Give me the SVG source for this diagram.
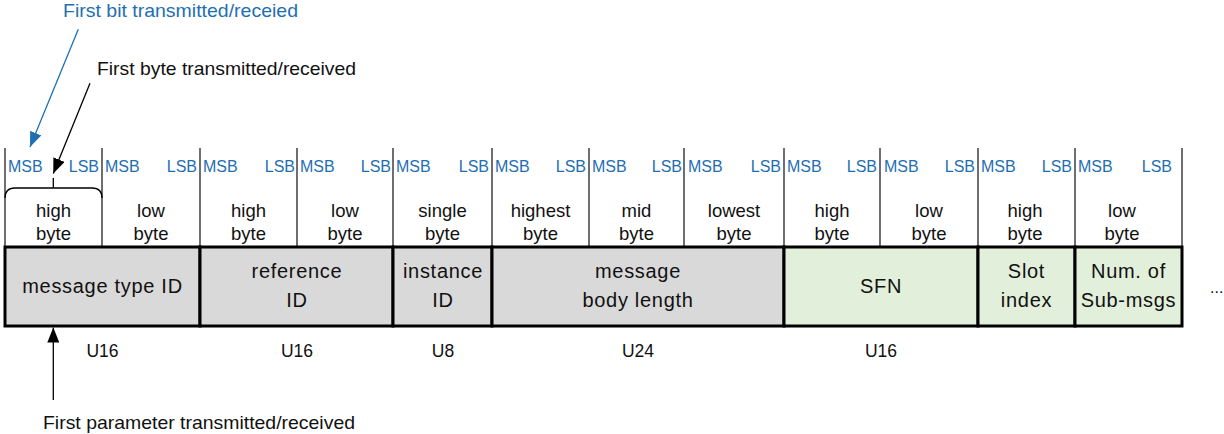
<svg xmlns="http://www.w3.org/2000/svg" width="1224" height="434" viewBox="0 0 1224 434">
<defs>
<marker id="ahb" markerUnits="userSpaceOnUse" markerWidth="15" markerHeight="12" refX="15" refY="6" orient="auto"><path d="M0,0 L15,6 L0,12 z" fill="#000"/></marker>
<marker id="ahBlue" markerUnits="userSpaceOnUse" markerWidth="15" markerHeight="12" refX="15" refY="6" orient="auto"><path d="M0,0 L15,6 L0,12 z" fill="#1F6FB2"/></marker>
</defs>
<style>
text{font-family:"Liberation Sans",Arial,sans-serif;fill:#111}
.msb{font-size:16px;fill:#1F6FB2}
.bl{font-size:18.5px;text-anchor:middle}
.bx{font-size:20px;text-anchor:middle;letter-spacing:0.7px}
.u{font-size:17.5px;text-anchor:middle}
.note{font-size:18.5px}
.div{stroke:#222;stroke-width:1.3;fill:none}
.gray{fill:#D9D9D9;stroke:#000;stroke-width:3}
.green{fill:#E2EFDA;stroke:#000;stroke-width:3}
.conn{stroke:#000;stroke-width:1.3;fill:none}
</style>

<g id="byte-grid">
<path class="div" d="M5,148V247 M102,148V247 M200,148V247 M297,148V247 M393,148V247 M492,148V247 M589,148V247 M684,148V247 M784,148V247 M880,148V247 M978,148V247 M1075,148V247 M1182,148V247"/>
<text class="msb" x="8" y="172">MSB</text><text class="msb" x="99" y="172" text-anchor="end">LSB</text>
<text class="msb" x="105" y="172">MSB</text><text class="msb" x="197" y="172" text-anchor="end">LSB</text>
<text class="msb" x="203" y="172">MSB</text><text class="msb" x="295" y="172" text-anchor="end">LSB</text>
<text class="msb" x="300" y="172">MSB</text><text class="msb" x="391" y="172" text-anchor="end">LSB</text>
<text class="msb" x="396" y="172">MSB</text><text class="msb" x="489" y="172" text-anchor="end">LSB</text>
<text class="msb" x="495" y="172">MSB</text><text class="msb" x="586" y="172" text-anchor="end">LSB</text>
<text class="msb" x="592" y="172">MSB</text><text class="msb" x="682" y="172" text-anchor="end">LSB</text>
<text class="msb" x="688" y="172">MSB</text><text class="msb" x="781" y="172" text-anchor="end">LSB</text>
<text class="msb" x="787" y="172">MSB</text><text class="msb" x="877" y="172" text-anchor="end">LSB</text>
<text class="msb" x="884" y="172">MSB</text><text class="msb" x="975" y="172" text-anchor="end">LSB</text>
<text class="msb" x="981" y="172">MSB</text><text class="msb" x="1072" y="172" text-anchor="end">LSB</text>
<text class="msb" x="1078" y="172">MSB</text><text class="msb" x="1172" y="172" text-anchor="end">LSB</text>

<text class="bl" x="53.5" y="217">high</text><text class="bl" x="53.5" y="240">byte</text>
<text class="bl" x="151" y="217">low</text><text class="bl" x="151" y="240">byte</text>
<text class="bl" x="248.5" y="217">high</text><text class="bl" x="248.5" y="240">byte</text>
<text class="bl" x="345" y="217">low</text><text class="bl" x="345" y="240">byte</text>
<text class="bl" x="442.5" y="217">single</text><text class="bl" x="442.5" y="240">byte</text>
<text class="bl" x="540.5" y="217">highest</text><text class="bl" x="540.5" y="240">byte</text>
<text class="bl" x="636.5" y="217">mid</text><text class="bl" x="636.5" y="240">byte</text>
<text class="bl" x="734" y="217">lowest</text><text class="bl" x="734" y="240">byte</text>
<text class="bl" x="832" y="217">high</text><text class="bl" x="832" y="240">byte</text>
<text class="bl" x="929" y="217">low</text><text class="bl" x="929" y="240">byte</text>
<text class="bl" x="1025" y="217">high</text><text class="bl" x="1025" y="240">byte</text>
<text class="bl" x="1122" y="217">low</text><text class="bl" x="1122" y="240">byte</text>
</g>

<g id="first-byte-bracket">
<path class="conn" d="M5,198 Q5,188 15,188 L92,188 Q102,188 102,198 M53.3,178 V188"/>
</g>

<g id="node-message-type-id">
<rect class="gray" x="5" y="247" width="195" height="79"/>
<text class="bx" x="102.5" y="293">message type ID</text>
</g>
<g id="node-reference-id">
<rect class="gray" x="200" y="247" width="193" height="79"/>
<text class="bx" x="297" y="278">reference</text><text class="bx" x="297" y="307">ID</text>
</g>
<g id="node-instance-id">
<rect class="gray" x="393" y="247" width="99" height="79"/>
<text class="bx" x="443" y="278">instance</text><text class="bx" x="443" y="307">ID</text>
</g>
<g id="node-message-body-length">
<rect class="gray" x="492" y="247" width="292" height="79"/>
<text class="bx" x="638" y="278">message</text><text class="bx" x="638" y="307">body length</text>
</g>
<g id="node-sfn">
<rect class="green" x="784" y="247" width="194" height="79"/>
<text class="bx" x="881" y="293">SFN</text>
</g>
<g id="node-slot-index">
<rect class="green" x="978" y="247" width="97" height="79"/>
<text class="bx" x="1026.5" y="278">Slot</text><text class="bx" x="1026.5" y="307">index</text>
</g>
<g id="node-num-sub-msgs">
<rect class="green" x="1075" y="247" width="107" height="79"/>
<text class="bx" x="1128.5" y="278">Num. of</text><text class="bx" x="1128.5" y="307">Sub-msgs</text>
</g>
<g id="ellipsis"><text x="1210" y="293" style="font-size:16px">...</text></g>

<g id="type-labels">
<text class="u" x="102.5" y="357">U16</text>
<text class="u" x="297" y="357">U16</text>
<text class="u" x="443" y="357">U8</text>
<text class="u" x="638" y="357">U24</text>
<text class="u" x="881" y="357">U16</text>
</g>

<g id="annotations">
<text class="note" x="63" y="17" style="fill:#1F6FB2" textLength="235" lengthAdjust="spacingAndGlyphs">First bit transmitted/receied</text>
<text class="note" x="97" y="75" textLength="259" lengthAdjust="spacingAndGlyphs">First byte transmitted/received</text>
<text class="note" x="43" y="429" textLength="312" lengthAdjust="spacingAndGlyphs">First parameter transmitted/received</text>
</g>

<g id="connectors">
<line x1="78.3" y1="29.3" x2="30" y2="147" stroke="#1F6FB2" stroke-width="1.3" marker-end="url(#ahBlue)"/>
<line class="conn" x1="90" y1="83.3" x2="53.3" y2="173.5" marker-end="url(#ahb)"/>
<line class="conn" x1="53.3" y1="400" x2="53.3" y2="327.5" marker-end="url(#ahb)"/>
</g>
</svg>
